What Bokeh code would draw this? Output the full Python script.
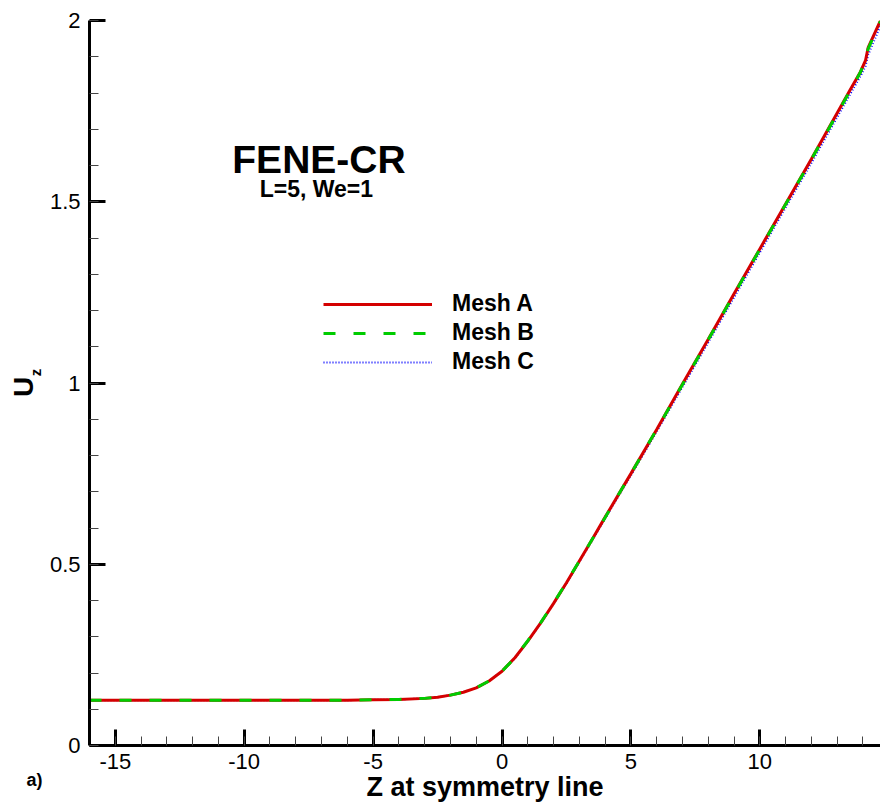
from bokeh.plotting import figure
from bokeh.models import (FixedTicker, Label, Legend, LegendItem, PrintfTickFormatter,
                          LinearAxis, Title)
from bokeh.embed import file_html
from bokeh.resources import INLINE

# ---- data ----
z = [-16, -12, -8, -6, -5, -4, -3, -2.5, -2, -1.5, -1, -0.5, 0, 0.5, 1, 1.5, 2,
     2.5, 3, 3.5, 4, 4.5, 5, 6, 7, 8, 9, 10, 11, 12, 13, 13.5, 13.9, 14.1, 14.2, 14.68]
mesh_a = [0.125, 0.125, 0.125, 0.125, 0.126, 0.127, 0.130, 0.133, 0.139, 0.147, 0.159,
          0.178, 0.205, 0.242, 0.288, 0.338, 0.392, 0.449, 0.509, 0.569, 0.630, 0.690,
          0.750, 0.872, 0.997, 1.121, 1.246, 1.370, 1.494, 1.618, 1.745, 1.808, 1.858,
          1.890, 1.925, 2.000]
mesh_b = [0.125, 0.125, 0.125, 0.125, 0.126, 0.127, 0.130, 0.133, 0.139, 0.147, 0.159,
          0.178, 0.205, 0.242, 0.289, 0.339, 0.393, 0.450, 0.509, 0.569, 0.629, 0.690,
          0.750, 0.872, 0.996, 1.120, 1.245, 1.369, 1.493, 1.617, 1.743, 1.806, 1.857,
          1.892, 1.922, 1.998]
mesh_c = [0.125, 0.125, 0.125, 0.125, 0.126, 0.127, 0.130, 0.133, 0.139, 0.147, 0.159,
          0.178, 0.205, 0.241, 0.287, 0.337, 0.391, 0.447, 0.507, 0.566, 0.626, 0.686,
          0.745, 0.866, 0.989, 1.112, 1.236, 1.360, 1.484, 1.607, 1.733, 1.796, 1.846,
          1.874, 1.905, 1.985]

x_ticks = [-15, -10, -5, 0, 5, 10]
x_tick_labels = ["-15", "-10", "-5", "0", "5", "10"]
x_minor = list(range(-16, 15))
y_ticks = [0, 0.5, 1, 1.5, 2]
y_tick_labels = ["0", "0.5", "1", "1.5", "2"]
y_minor = [i / 10 for i in range(0, 21)]

series_names = ["Mesh A", "Mesh B", "Mesh C"]
title_text = "FENE-CR"
subtitle_text = "L=5, We=1"
x_title = "Z at symmetry line"
y_title_main = "U"
y_title_sub = "z"
panel_tag = "a)"

FONT = "Liberation Sans"
NBSP = "\u00a0"

p = figure(width=880, height=807, x_range=(-16, 14.68), y_range=(0, 2),
           output_backend="svg", toolbar_location=None,
           min_border_left=89, min_border_right=0, min_border_top=20, min_border_bottom=62)
p.outline_line_color = None
p.xgrid.visible = False
p.ygrid.visible = False
p.background_fill_color = "white"
p.border_fill_color = "white"

# lines
rc = p.line(z, mesh_c, line_color="#0000ff", line_width=2, line_dash="1 2")
ra = p.line(z, mesh_a, line_color="#d40000", line_width=3)
rb = p.line(z, mesh_b, line_color="#00cc00", line_width=3, line_dash="12 18")

# axes
for ax, ticks, minor, labels in ((p.xaxis[0], x_ticks, x_minor, x_tick_labels),
                                 (p.yaxis[0], y_ticks, y_minor, y_tick_labels)):
    ax.ticker = FixedTicker(ticks=ticks, minor_ticks=minor)
    ax.formatter = PrintfTickFormatter(format="%g")
    ax.major_label_overrides = {float(t): l for t, l in zip(ticks, labels)}
    ax.axis_line_width = 3
    ax.axis_line_color = "black"
    ax.major_tick_line_width = 3
    ax.major_tick_line_color = "black"
    ax.major_tick_in = 16
    ax.major_tick_out = 0
    ax.minor_tick_line_width = 1
    ax.minor_tick_line_color = "#444444"
    ax.minor_tick_in = 9
    ax.minor_tick_out = 0
    ax.major_label_text_font = FONT
    ax.major_label_text_font_size = "22px"
    ax.major_label_text_color = "black"
p.xaxis[0].major_label_standoff = 8
p.yaxis[0].major_label_standoff = 9

# y title: subscript as the main axis label, "U" on an empty outer axis
p.yaxis[0].axis_label = NBSP * 5 + y_title_sub
p.yaxis[0].axis_label_standoff = 3
p.yaxis[0].axis_label_text_font = FONT
p.yaxis[0].axis_label_text_font_style = "bold"
p.yaxis[0].axis_label_text_font_size = "15px"
p.yaxis[0].axis_label_text_color = "black"

u_axis = LinearAxis(ticker=FixedTicker(ticks=[]), axis_label=y_title_main + NBSP,
                    axis_line_color=None, major_tick_line_color=None,
                    minor_tick_line_color=None, major_label_standoff=0,
                    major_label_text_font_size="0px", axis_label_standoff=-15,
                    axis_label_text_font=FONT, axis_label_text_font_style="bold",
                    axis_label_text_font_size="28px", axis_label_text_color="black")
p.add_layout(u_axis, "left")

# bottom texts as titles (not clipped to the frame)
p.add_layout(Title(text=panel_tag, align="left", offset=-63, vertical_align="bottom",
                   standoff=-7, text_font=FONT, text_font_style="bold",
                   text_font_size="18px", text_color="black"), "below")
p.add_layout(Title(text=x_title, align="center", vertical_align="top", standoff=-30,
                   text_font=FONT, text_font_style="bold", text_font_size="27px",
                   text_color="black"), "below")

# legend
legend = Legend(items=[LegendItem(label=series_names[0], renderers=[ra]),
                       LegendItem(label=series_names[1], renderers=[rb]),
                       LegendItem(label=series_names[2], renderers=[rc])],
                location=(234, 370), orientation="vertical",
                glyph_width=109, glyph_height=20, label_height=20, spacing=2,
                padding=0, margin=0, label_standoff=20,
                border_line_color=None, background_fill_alpha=0,
                label_text_font=FONT, label_text_font_style="bold",
                label_text_font_size="23px", label_text_color="black")
p.add_layout(legend)

# in-plot titles
p.add_layout(Label(x=-7.1, y=1.617, text=title_text, text_align="center",
                   text_baseline="alphabetic", text_font=FONT, text_font_style="bold",
                   text_font_size="39px", text_color="black"))
p.add_layout(Label(x=-7.2, y=1.534, text=subtitle_text, text_align="center",
                   text_baseline="alphabetic", text_font=FONT, text_font_style="bold",
                   text_font_size="23px", text_color="black"))

open("out.html", "w").write(file_html(p, INLINE))
